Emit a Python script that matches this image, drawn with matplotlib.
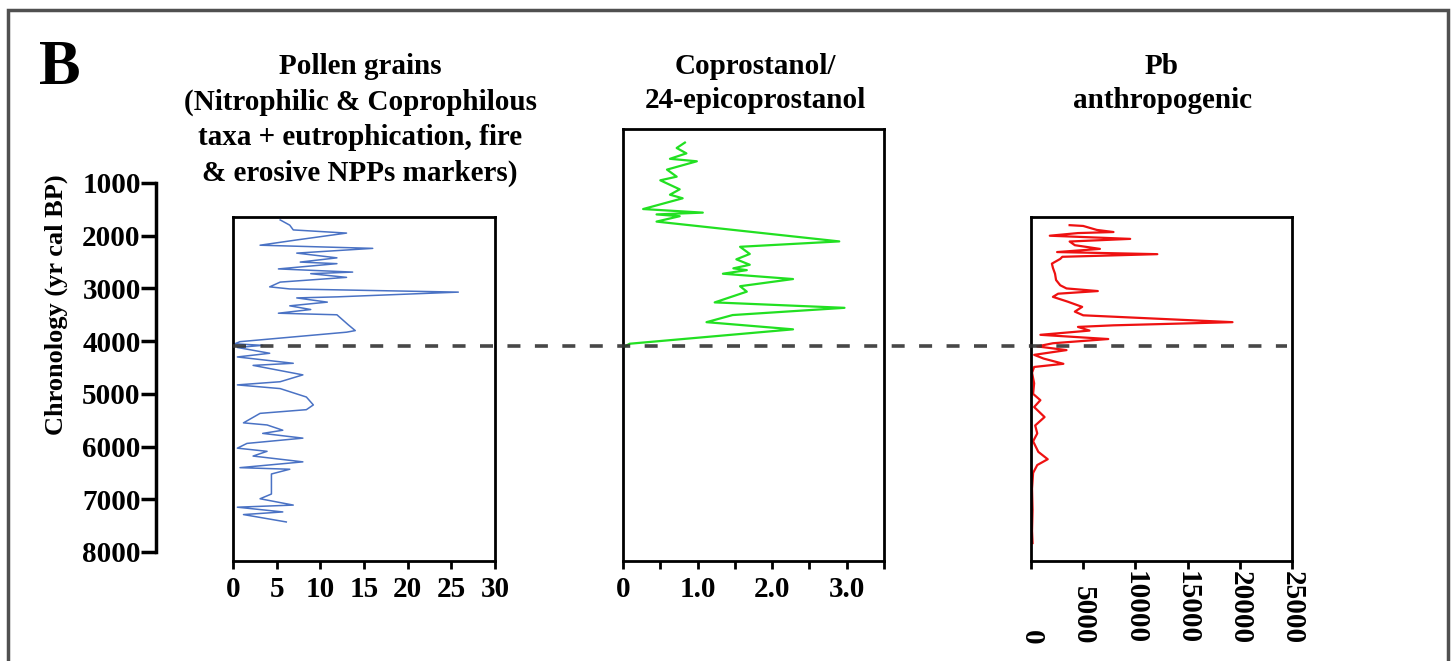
import numpy as np
import matplotlib.pyplot as plt
from matplotlib.patches import Rectangle

# Pollen grains (nitrophilic & coprophilous taxa + NPP markers)
pollen_age = [1700, 1800, 1890, 1950, 2080, 2180, 2240, 2330, 2420, 2500, 2530, 2630,
              2690, 2720, 2790, 2880, 2970, 3010, 3070, 3160, 3180, 3260, 3330, 3400,
              3470, 3500, 3690, 3800, 3830, 4010, 4050, 4080, 4120, 4230, 4300, 4420,
              4460, 4640, 4770, 4830, 4900, 5060, 5210, 5300, 5370, 5550, 5590, 5690,
              5750, 5840, 5940, 6030, 6090, 6180, 6290, 6400, 6430, 6520, 6900, 6990,
              7110, 7150, 7240, 7290, 7430]
pollen_val = [5.4, 6.5, 6.9, 13.0, 7.3, 3.1, 16.0, 7.3, 11.9, 7.7, 11.9, 5.2,
              13.7, 8.9, 13.0, 5.4, 4.2, 6.5, 25.8, 11.9, 7.3, 10.8, 6.5, 8.9,
              5.2, 11.9, 13.2, 14.0, 13.0, 0.8, 0.2, 3.4, 0.5, 4.2, 0.5, 6.9,
              2.3, 8.0, 5.4, 0.5, 5.4, 8.4, 9.2, 8.4, 3.1, 1.2, 3.9, 5.7,
              3.4, 8.0, 1.6, 0.5, 3.9, 2.3, 8.0, 0.8, 6.5, 4.4, 4.4, 3.1,
              6.9, 0.5, 5.7, 1.2, 6.1]

# Coprostanol / 24-epicoprostanol
copro_age = [233, 336, 438, 541, 588, 746, 880, 949, 1120, 1222, 1290, 1494, 1562,
             1596, 1630, 1732, 1766, 2108, 2210, 2346, 2448, 2551, 2619, 2653, 2721,
             2822, 2958, 3061, 3265, 3368, 3505, 3640, 3776, 4049, 4117, 6700]
copro_val = [0.83, 0.72, 0.85, 0.63, 0.99, 0.59, 0.72, 0.50, 0.76, 0.63, 0.80, 0.27, 1.07,
             0.45, 0.76, 0.45, 0.67, 2.90, 1.57, 1.70, 1.52, 1.70, 1.48, 1.66, 1.34,
             2.28, 1.57, 1.66, 1.23, 2.97, 1.47, 1.12, 2.28, 0.09, 0.0, 0.0]

# Pb anthropogenic
pb_age = [1800, 1815, 1890, 1930, 1950, 2000, 2060, 2110, 2180, 2250, 2310, 2350,
          2400, 2440, 2530, 2610, 2720, 2840, 2940, 3000, 3050, 3100, 3160, 3250,
          3350, 3440, 3510, 3640, 3700, 3730, 3800, 3880, 3960, 4040, 4100, 4170,
          4260, 4330, 4430, 4490, 4600, 4800, 5000, 5120, 5250, 5440, 5600, 5750,
          5900, 6100, 6240, 6350, 6500, 6800, 7200, 7600, 7830]
pb_val = [3700, 5000, 6300, 7900, 4500, 1800, 9500, 3700, 4200, 6600, 2500, 12100,
          3000, 2800, 2000, 2100, 2300, 2400, 2800, 3400, 6400, 2600, 2100, 3500,
          4900, 4200, 5000, 19300, 7900, 4500, 5600, 900, 7400, 2100, 600, 3400,
          300, 1200, 3100, 300, 100, 300, 200, 900, 300, 1300, 400, 600,
          200, 700, 1600, 600, 200, 100, 150, 100, 150]

boundary_age = 4090
age_ticks = [1000, 2000, 3000, 4000, 5000, 6000, 7000, 8000]

W, H = 1455, 661
plt.rcParams['font.family'] = ['Liberation Serif', 'DejaVu Serif']
plt.rcParams['font.weight'] = 'bold'
fig = plt.figure(figsize=(W / 100, H / 100), dpi=100)

# pixel -> age mapping shared by all panels
def age_at(y):
    return 1000 + (y - 183) * 7000 / 369

def add_panel(x0, y0, x1, y1):
    ax = fig.add_axes([x0 / W, 1 - y1 / H, (x1 - x0) / W, (y1 - y0) / H])
    ax.set_ylim(age_at(y1), age_at(y0))
    return ax

def style_box(ax):
    for s in ax.spines.values():
        s.set_linewidth(2.0)
    ax.set_yticks([])
    ax.tick_params(axis='x', direction='out', length=6, width=2.0,
                   labelsize=21, pad=5)

# shared chronology axis
ax_y = add_panel(156, 183, 166, 552)
ax_y.set_ylim(8000, 1000)
for s in ['top', 'right', 'bottom']:
    ax_y.spines[s].set_visible(False)
ax_y.spines['left'].set_linewidth(2.5)
ax_y.set_xticks([])
ax_y.set_yticks(age_ticks)
ax_y.set_yticklabels([str(t) for t in age_ticks])
ax_y.tick_params(axis='y', length=11, width=2.5, labelsize=21, pad=0)
ax_y.patch.set_visible(False)
fig.text(56 / W, 1 - 305 / H, 'Chronology (yr cal BP)', rotation=90,
         ha='center', va='center', fontsize=19, fontweight='bold')

# pollen
ax1 = add_panel(233, 217, 495, 561)
ax1.plot(pollen_val, pollen_age, color='#4a72c4', lw=1.1)
ax1.set_xlim(0, 30)
ax1.set_xticks([0, 5, 10, 15, 20, 25, 30])
style_box(ax1)

# coprostanol
ax2 = add_panel(623, 129, 884, 561)
ax2.plot(copro_val, copro_age, color='#22e022', lw=1.6)
ax2.set_xlim(0, 3.5)
ax2.set_xticks(np.arange(0, 3.51, 0.5))
ax2.set_xticklabels(['0', '', '1.0', '', '2.0', '', '3.0', ''])
style_box(ax2)

# Pb
ax3 = add_panel(1031, 217, 1292, 561)
ax3.plot(pb_val, pb_age, color='#ee1111', lw=1.6)
ax3.set_xlim(0, 25000)
ax3.set_xticks([0, 5000, 10000, 15000, 20000, 25000])
style_box(ax3)
ax3.tick_params(axis='x', pad=54)
for lab in ax3.get_xticklabels():
    lab.set_rotation(-90)
    lab.set_va('bottom')

# dashed boundary across the panels
ax_d = add_panel(233, 129, 1292, 561)
ax_d.set_axis_off()
ax_d.set_xlim(0, 1)
ax_d.axhline(boundary_age, xmin=0.0, xmax=0.995, color='#333333', lw=2.6,
             dashes=(3.6, 4.0), alpha=0.9)

# titles
fig.text(360 / W, 1 - 53 / H,
         'Pollen grains\n(Nitrophilic & Coprophilous\ntaxa + eutrophication, fire\n& erosive NPPs markers)',
         ha='center', va='top', fontsize=21, fontweight='bold', linespacing=1.4)
fig.text(755 / W, 1 - 53 / H, 'Coprostanol/\n24-epicoprostanol',
         ha='center', va='top', fontsize=21, fontweight='bold', linespacing=1.35)
fig.text(1162 / W, 1 - 53 / H, 'Pb\nanthropogenic',
         ha='center', va='top', fontsize=21, fontweight='bold', linespacing=1.35)
fig.text(39 / W, 1 - 40 / H, 'B', ha='left', va='top', fontsize=45, fontweight='bold')

# outer frame
fig.patches.append(Rectangle((8 / W, -0.05), 1440 / W, 1.05 - 10 / H,
                             transform=fig.transFigure, fill=False,
                             edgecolor='#505050', lw=2.5))

fig.savefig('out.png', dpi=100)
